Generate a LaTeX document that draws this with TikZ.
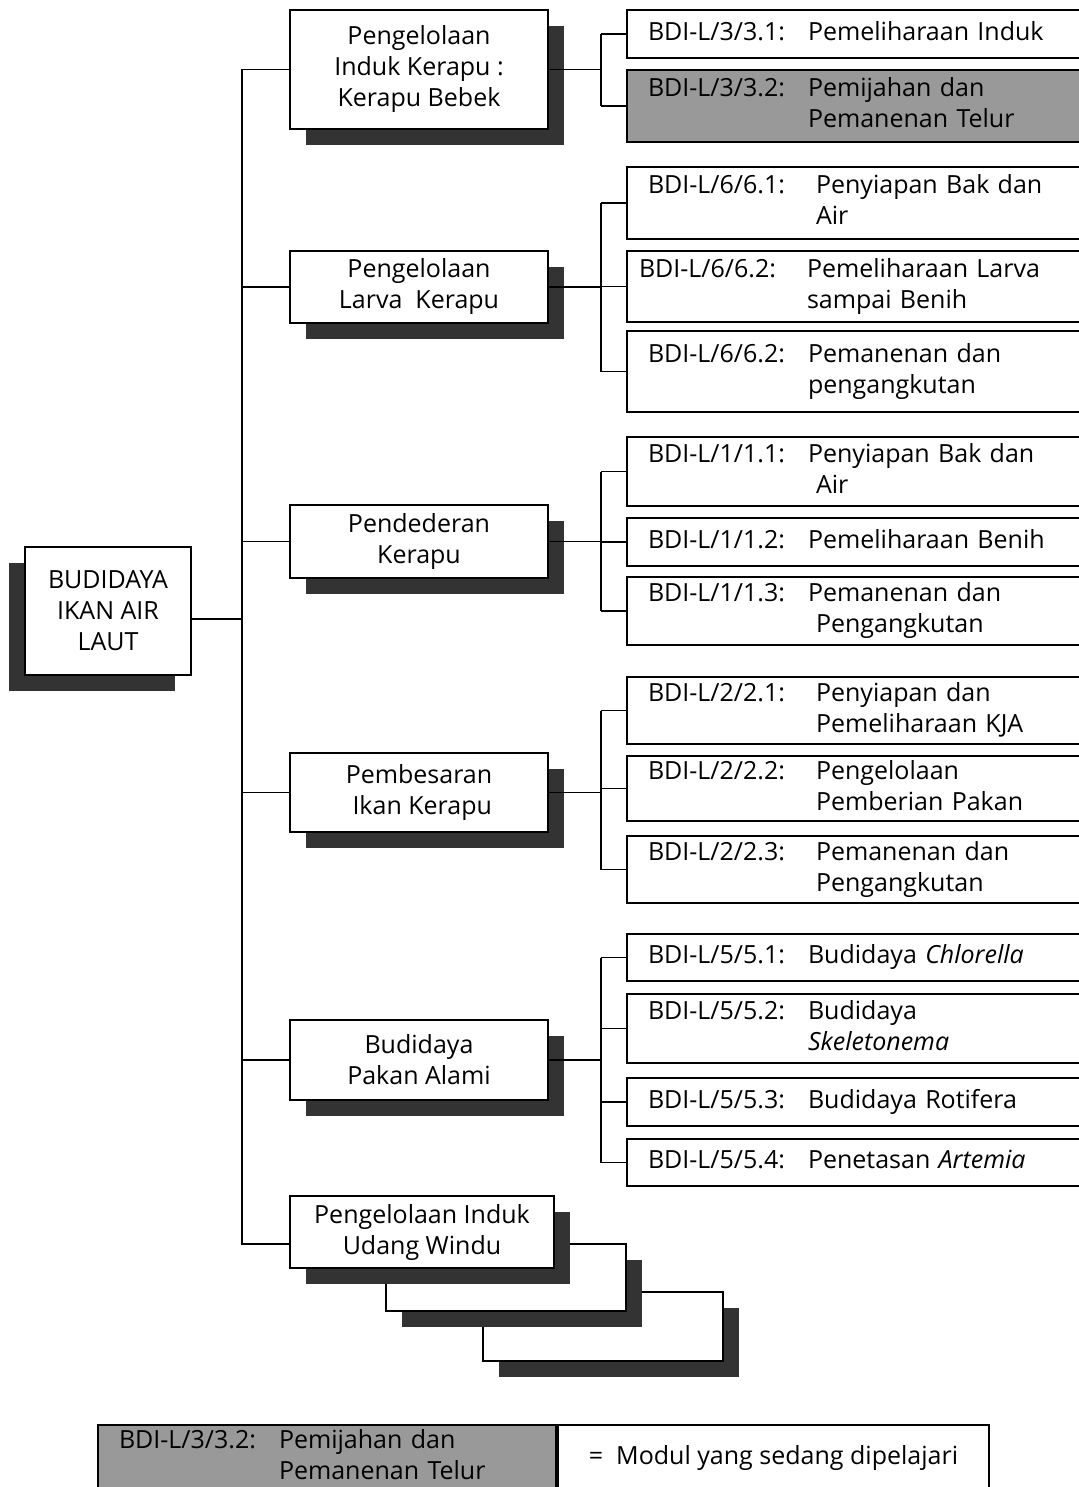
\documentclass[tikz,border=0pt]{standalone}
\usepackage{fontspec}
\setmainfont{Open Sans}
\usetikzlibrary{shadows}
\definecolor{shadecol}{HTML}{333333}
\definecolor{current}{HTML}{999999}
\newcommand{\modtext}[3][80pt]{\begin{tabular}{@{}p{#1}@{}l@{}}#2&#3\end{tabular}}

\begin{document}
\begin{tikzpicture}[x=0.5pt,y=-0.5pt,font=\fontsize{12.5}{15.5}\selectfont,
  box/.style={draw,fill=white,line width=1pt,anchor=north west,inner sep=0pt},
  shade/.style={drop shadow={shadow xshift=8pt,shadow yshift=-8pt,fill=shadecol,opacity=1}},
  unitbox/.style={box,shade,minimum width=129pt,align=center},
  modbox/.style={box,inner xsep=10.5pt,text width=208pt,align=left},
  link/.style={line width=0.8pt}]
  \useasboundingbox (0,0) rectangle (1078,1487);
  % root
  \node[box,minimum width=83pt,minimum height=64pt,align=center,
    drop shadow={shadow xshift=-8pt,shadow yshift=-8pt,fill=shadecol,opacity=1}]
    (root) at (24,546) {BUDIDAYA\\IKAN AIR\\LAUT};
  % units
  \node[unitbox,minimum height=59.5pt] (m1) at (289,9) {Pengelolaan\\Induk Kerapu :\\Kerapu Bebek};
  \node[unitbox,minimum height=36pt] (m2) at (289,250) {Pengelolaan\\Larva\ \ Kerapu};
  \node[unitbox,minimum height=36.5pt] (m3) at (289,504) {Pendederan\\Kerapu};
  \node[unitbox,minimum height=39.5pt] (m4) at (289,752) {Pembesaran\\\ Ikan Kerapu};
  \node[unitbox,minimum height=40pt] (m5) at (289,1019) {Budidaya\\Pakan Alami};
  \node[box,shade,minimum width=120pt,minimum height=34.5pt] (s3) at (482,1291) {};
  \node[box,shade,minimum width=120pt,minimum height=33.5pt] (s2) at (385,1243) {};
  \node[unitbox,minimum width=132pt,minimum height=36pt] (m6) at (289,1195) {Pengelolaan Induk\\Udang Windu};
  % modules
  \node[modbox,minimum height=24pt] (r31) at (626,9) {\modtext{BDI-L/3/3.1:}{Pemeliharaan Induk}};
  \node[modbox,fill=current,minimum height=36pt] (r32) at (626,69) {\modtext{BDI-L/3/3.2:}{Pemijahan dan\\&Pemanenan Telur}};
  \node[modbox,minimum height=36pt] (r61) at (626,166) {\modtext[84pt]{BDI-L/6/6.1:}{Penyiapan Bak dan\\&Air}};
  \node[modbox,inner xsep=6pt,text width=217pt,minimum height=35.5pt] (r62) at (626,250) {\modtext[84pt]{BDI-L/6/6.2:}{Pemeliharaan Larva\\&sampai Benih}};
  \node[modbox,minimum height=40.5pt] (r63) at (626,330) {\modtext{BDI-L/6/6.2:}{Pemanenan dan\\&pengangkutan}};
  \node[modbox,minimum height=34.5pt] (r11) at (626,436) {\modtext{BDI-L/1/1.1:}{Penyiapan Bak dan\\&\hspace{4pt}Air}};
  \node[modbox,minimum height=24pt] (r12) at (626,517) {\modtext{BDI-L/1/1.2:}{Pemeliharaan Benih}};
  \node[modbox,minimum height=34pt] (r13) at (626,576) {\modtext{BDI-L/1/1.3:}{Pemanenan dan\\&\hspace{4pt}Pengangkutan}};
  \node[modbox,minimum height=33.5pt] (r21) at (626,676) {\modtext[84pt]{BDI-L/2/2.1:}{Penyiapan dan\\&Pemeliharaan KJA}};
  \node[modbox,minimum height=32.5pt] (r22) at (626,755) {\modtext[84pt]{BDI-L/2/2.2:}{Pengelolaan\\&Pemberian Pakan}};
  \node[modbox,minimum height=33.5pt] (r23) at (626,835) {\modtext[84pt]{BDI-L/2/2.3:}{Pemanenan dan\\&Pengangkutan}};
  \node[modbox,minimum height=23.5pt] (r51) at (626,933) {\modtext{BDI-L/5/5.1:}{Budidaya \textit{Chlorella}}};
  \node[modbox,minimum height=34.5pt] (r52) at (626,993) {\modtext{BDI-L/5/5.2:}{Budidaya\\&\textit{Skeletonema}}};
  \node[modbox,minimum height=24pt] (r53) at (626,1077) {\modtext{BDI-L/5/5.3:}{Budidaya Rotifera}};
  \node[modbox,minimum height=23.5pt] (r54) at (626,1138) {\modtext{BDI-L/5/5.4:}{Penetasan \textit{Artemia}}};
  % connectors
  \coordinate (trunk) at (242,0);
  \coordinate (sub) at (601,0);
  \draw[link] ([yshift=-4pt]root.east) -- ([yshift=-4pt]root.east -| trunk);
  \draw[link] (trunk |- m1.west) -- ([yshift=-6pt]trunk |- m6.west) -- ([yshift=-6pt]m6.west);
  \foreach \m in {m1,m2,m3,m4,m5} {
    \draw[link] (trunk |- \m.west) -- (\m.west);
    \draw[link] (\m.east) -- (sub |- \m.east);
  }
  \foreach \a/\b in {r31/r32,r61/r63,r11/r13,r21/r23,r51/r54}
    \draw[link] (sub |- \a.west) -- (sub |- \b.west);
  \foreach \r in {r31,r32,r61,r62,r63,r11,r12,r13,r21,r22,r23,r51,r52,r53,r54}
    \draw[link] (sub |- \r.west) -- (\r.west);
  % legend
  \node[modbox,fill=current,minimum height=32.5pt] (key) at (97,1424) {\modtext{BDI-L/3/3.2:}{Pemijahan dan\\&Pemanenan Telur}};
  \node[box,minimum width=215.5pt,minimum height=32.5pt] (keytext) at (key.north east) {=\ \ Modul yang sedang dipelajari};
\end{tikzpicture}
\end{document}
